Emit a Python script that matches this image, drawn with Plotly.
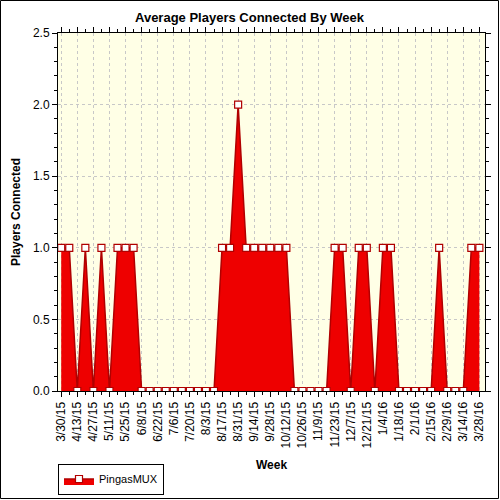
import plotly.graph_objects as go

weeks = ["3/30/15", "4/6/15", "4/13/15", "4/20/15", "4/27/15", "5/4/15", "5/11/15", "5/18/15",
         "5/25/15", "6/1/15", "6/8/15", "6/15/15", "6/22/15", "6/29/15", "7/6/15", "7/13/15",
         "7/20/15", "7/27/15", "8/3/15", "8/10/15", "8/17/15", "8/24/15", "8/31/15", "9/7/15",
         "9/14/15", "9/21/15", "9/28/15", "10/5/15", "10/12/15", "10/19/15", "10/26/15", "11/2/15",
         "11/9/15", "11/16/15", "11/23/15", "11/30/15", "12/7/15", "12/14/15", "12/21/15", "12/28/15",
         "1/4/16", "1/11/16", "1/18/16", "1/25/16", "2/1/16", "2/8/16", "2/15/16", "2/22/16",
         "2/29/16", "3/7/16", "3/14/16", "3/21/16", "3/28/16"]
players = [1, 1, 0, 1, 0, 1, 0, 1, 1, 1,
           0, 0, 0, 0, 0, 0, 0, 0, 0, 0,
           1, 1, 2, 1, 1, 1, 1, 1, 1, 0,
           0, 0, 0, 0, 1, 1, 0, 1, 1, 0,
           1, 1, 0, 0, 0, 0, 0, 1, 0, 0,
           0, 1, 1]
series_name = "PingasMUX"
tick_labels = weeks[::2]

xi = list(range(len(weeks)))
tickvals = xi[::2]

FONT = "Liberation Sans, Arial, sans-serif"

fig = go.Figure()
fig.add_trace(go.Scatter(
    x=xi, y=players, name=series_name, mode="lines+markers",
    fill="tozeroy", fillcolor="#EE0000",
    line=dict(color="#B00000", width=1.5),
    marker=dict(symbol="square", size=7, color="white",
                line=dict(color="#B00000", width=1.2)),
))

L, R, T, B = 58, 15, 33, 109
W, H = 500 - L - R, 500 - T - B

def px2x(p):
    return (p - L) / W

def px2y(p):
    return (500 - B - p) / H

fig.update_layout(
    width=500, height=500,
    margin=dict(l=L, r=R, t=T, b=B, autoexpand=False),
    paper_bgcolor="white", plot_bgcolor="#FFFFE6",
    font=dict(family=FONT, size=12, color="black"),
    showlegend=True,
    legend=dict(x=px2x(58), y=px2y(479), xanchor="left", yanchor="middle",
                bordercolor="black", borderwidth=1, bgcolor="white",
                font=dict(size=11), itemwidth=30, tracegroupgap=0),
    xaxis=dict(range=[-0.4, 52.7], tickvals=tickvals, ticktext=tick_labels,
               tickangle=-90, tickfont=dict(size=12), automargin=False,
               showgrid=True, gridcolor="#C8C8C8", griddash="dot", gridwidth=1,
               ticks="outside", ticklen=5, tickcolor="black",
               minor=dict(dtick=1, tick0=0, ticks="outside", ticklen=3, tickcolor="black", showgrid=False),
               showline=True, linecolor="black", linewidth=1, mirror="ticks",
               zeroline=False, fixedrange=True),
    yaxis=dict(range=[0, 2.5], dtick=0.5, tickformat=".1f", tickfont=dict(size=12), automargin=False,
               showgrid=True, gridcolor="#C8C8C8", griddash="dot", gridwidth=1,
               ticks="outside", ticklen=5, tickcolor="black",
               minor=dict(dtick=0.1, ticks="outside", ticklen=3, tickcolor="black", showgrid=False),
               showline=True, linecolor="black", linewidth=1, mirror="ticks",
               zeroline=False, fixedrange=True),
    annotations=[
        dict(text="<b>Average Players Connected By Week</b>", x=px2x(250), y=px2y(17),
             xanchor="center", yanchor="middle",
             xref="paper", yref="paper", showarrow=False, font=dict(size=13)),
        dict(text="<b>Week</b>", x=px2x(271), y=px2y(465),
             xanchor="center", yanchor="middle",
             xref="paper", yref="paper", showarrow=False, font=dict(size=12)),
        dict(text="<b>Players Connected</b>", x=px2x(16), y=px2y(212), textangle=-90,
             xanchor="center", yanchor="middle",
             xref="paper", yref="paper", showarrow=False, font=dict(size=12)),
    ],
    shapes=[
        dict(type="rect", xref="paper", yref="paper",
             x0=px2x(0.5), x1=px2x(498.5), y0=px2y(498.5), y1=px2y(0.5),
             line=dict(color="black", width=1), layer="below"),
    ],
)

fig.write_html("out.html")
